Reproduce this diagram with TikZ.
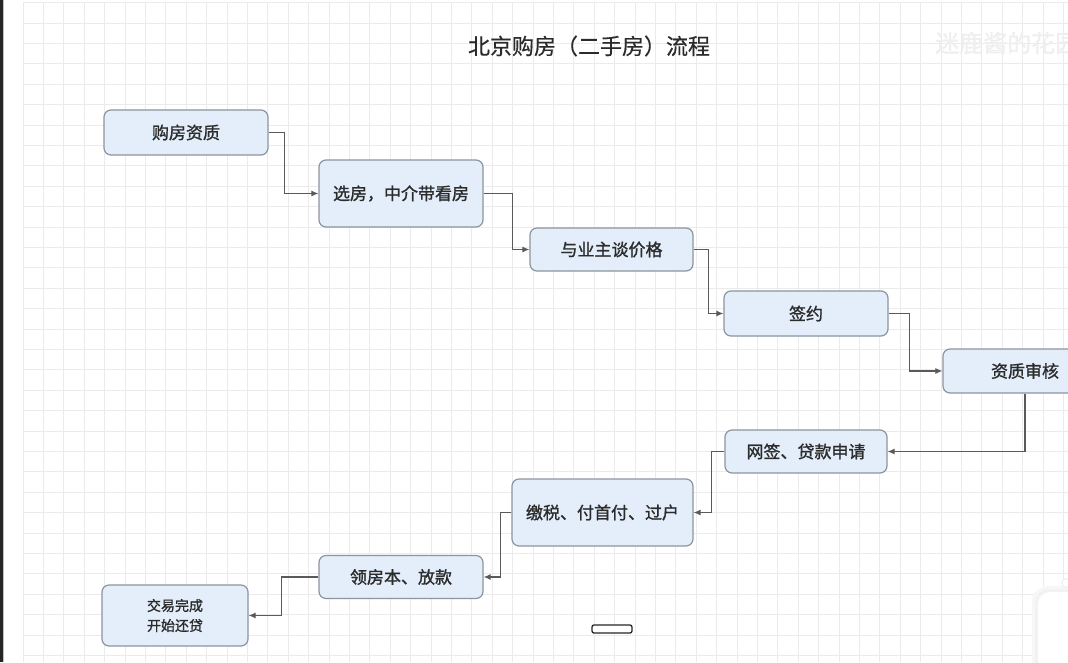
\documentclass[tikz,border=0pt]{standalone}
\usepackage{fontspec}
\newfontfamily\cjk[FakeBold=0.4]{Noto Sans CJK SC}
\newfontfamily\cjkb[FakeBold=1.2]{Noto Sans CJK SC}
\usetikzlibrary{arrows.meta}
\definecolor{boxfill}{HTML}{E4EEFA}
\definecolor{boxline}{HTML}{8C959F}
\definecolor{txt}{HTML}{2B2B2B}
\definecolor{conn}{HTML}{5A5A5A}
\definecolor{gridc}{HTML}{EBEBEB}
\definecolor{wm}{HTML}{EFEFEF}
\tikzset{
  flowbox/.style={draw=boxline, fill=boxfill, rounded corners=7pt, line width=1.2pt,
    text=txt, font=\cjkb\fontsize{17}{20}\selectfont, inner sep=0pt, align=center},
  connector/.style={draw=conn, line width=1.1pt, -{Latex[length=7pt,width=6pt]}},
  gridline/.style={draw=gridc, line width=1pt}
}
\begin{document}
\begin{tikzpicture}[x=1pt,y=-1pt]
\useasboundingbox (0,0) rectangle (1068,662);
\fill[white] (0,0) rectangle (1068,662);
% grid
\foreach \i in {0,...,51} \draw[gridline] ({23+20.4*\i},2.6) -- ({23+20.4*\i},662);
\foreach \j in {0,...,32} \draw[gridline] (23,{2.6+20.4*\j}) -- (1068,{2.6+20.4*\j});
% left window edge
\fill[black!85] (0,0) rectangle (2.5,662);
\draw[black!25, line width=0.8pt] (3.2,0) -- (3.2,662);
% title and watermark
\node[font=\cjk\fontsize{22}{26}\selectfont, text=txt] (title) at (589,46) {北京购房（二手房）流程};
\node[font=\cjkb\fontsize{24}{28}\selectfont, text=wm, anchor=west, inner sep=0pt] (wmark) at (935,43) {迷鹿酱的花园};
% boxes
\node[flowbox, minimum width=164pt, minimum height=45pt] (b1) at (186,132.5) {购房资质};
\node[flowbox, minimum width=164pt, minimum height=67pt] (b2) at (401,193.5) {选房，中介带看房};
\node[flowbox, minimum width=163pt, minimum height=43pt] (b3) at (611.5,249.5) {与业主谈价格};
\node[flowbox, minimum width=164pt, minimum height=45pt] (b4) at (806,313.5) {签约};
\node[flowbox, minimum width=164pt, minimum height=44pt] (b5) at (1025,371) {资质审核};
\node[flowbox, minimum width=162pt, minimum height=43pt] (b6) at (806,451.5) {网签、贷款申请};
\node[flowbox, minimum width=181pt, minimum height=67pt] (b7) at (602.5,512.5) {缴税、付首付、过户};
\node[flowbox, minimum width=164pt, minimum height=43pt] (b8) at (401,577) {领房本、放款};
\node[flowbox, minimum width=146pt, minimum height=61pt, font=\cjkb\fontsize{14}{20}\selectfont] (b9) at (175,615.5) {交易完成\\开始还贷};
% connectors
\draw[connector] (b1.east) -- ++(16,0) |- (b2.west);
\draw[connector] (b2.east) -- ++(29,0) |- (b3.west);
\draw[connector] (b3.east) -- ++(15,0) |- (b4.west);
\draw[connector] (b4.east) -- ++(21,0) |- (b5.west);
\draw[connector] (b5.south) |- (b6.east);
\draw[connector] (b6.west) -- ++(-13,0) |- (b7.east);
\draw[connector] (b7.west) -- ++(-11,0) |- (b8.east);
\draw[connector] (b8.west) -- ++(-37,0) |- (b9.east);
% small bar at bottom centre
\draw[black!85, fill=white, line width=1.3pt, rounded corners=2pt] (592,625) rectangle (632,633);
% overlay panel bottom right
\fill[black!3, rounded corners=16pt] (1032,586) rectangle (1110,700);
\fill[black!5, rounded corners=14pt] (1035,589) rectangle (1110,700);
\fill[white, rounded corners=12pt] (1038,592) rectangle (1110,700);
\fill[black!6] (1066,583) circle (5pt);
\fill[white] (1066,583) circle (3.5pt);
\end{tikzpicture}
\end{document}
